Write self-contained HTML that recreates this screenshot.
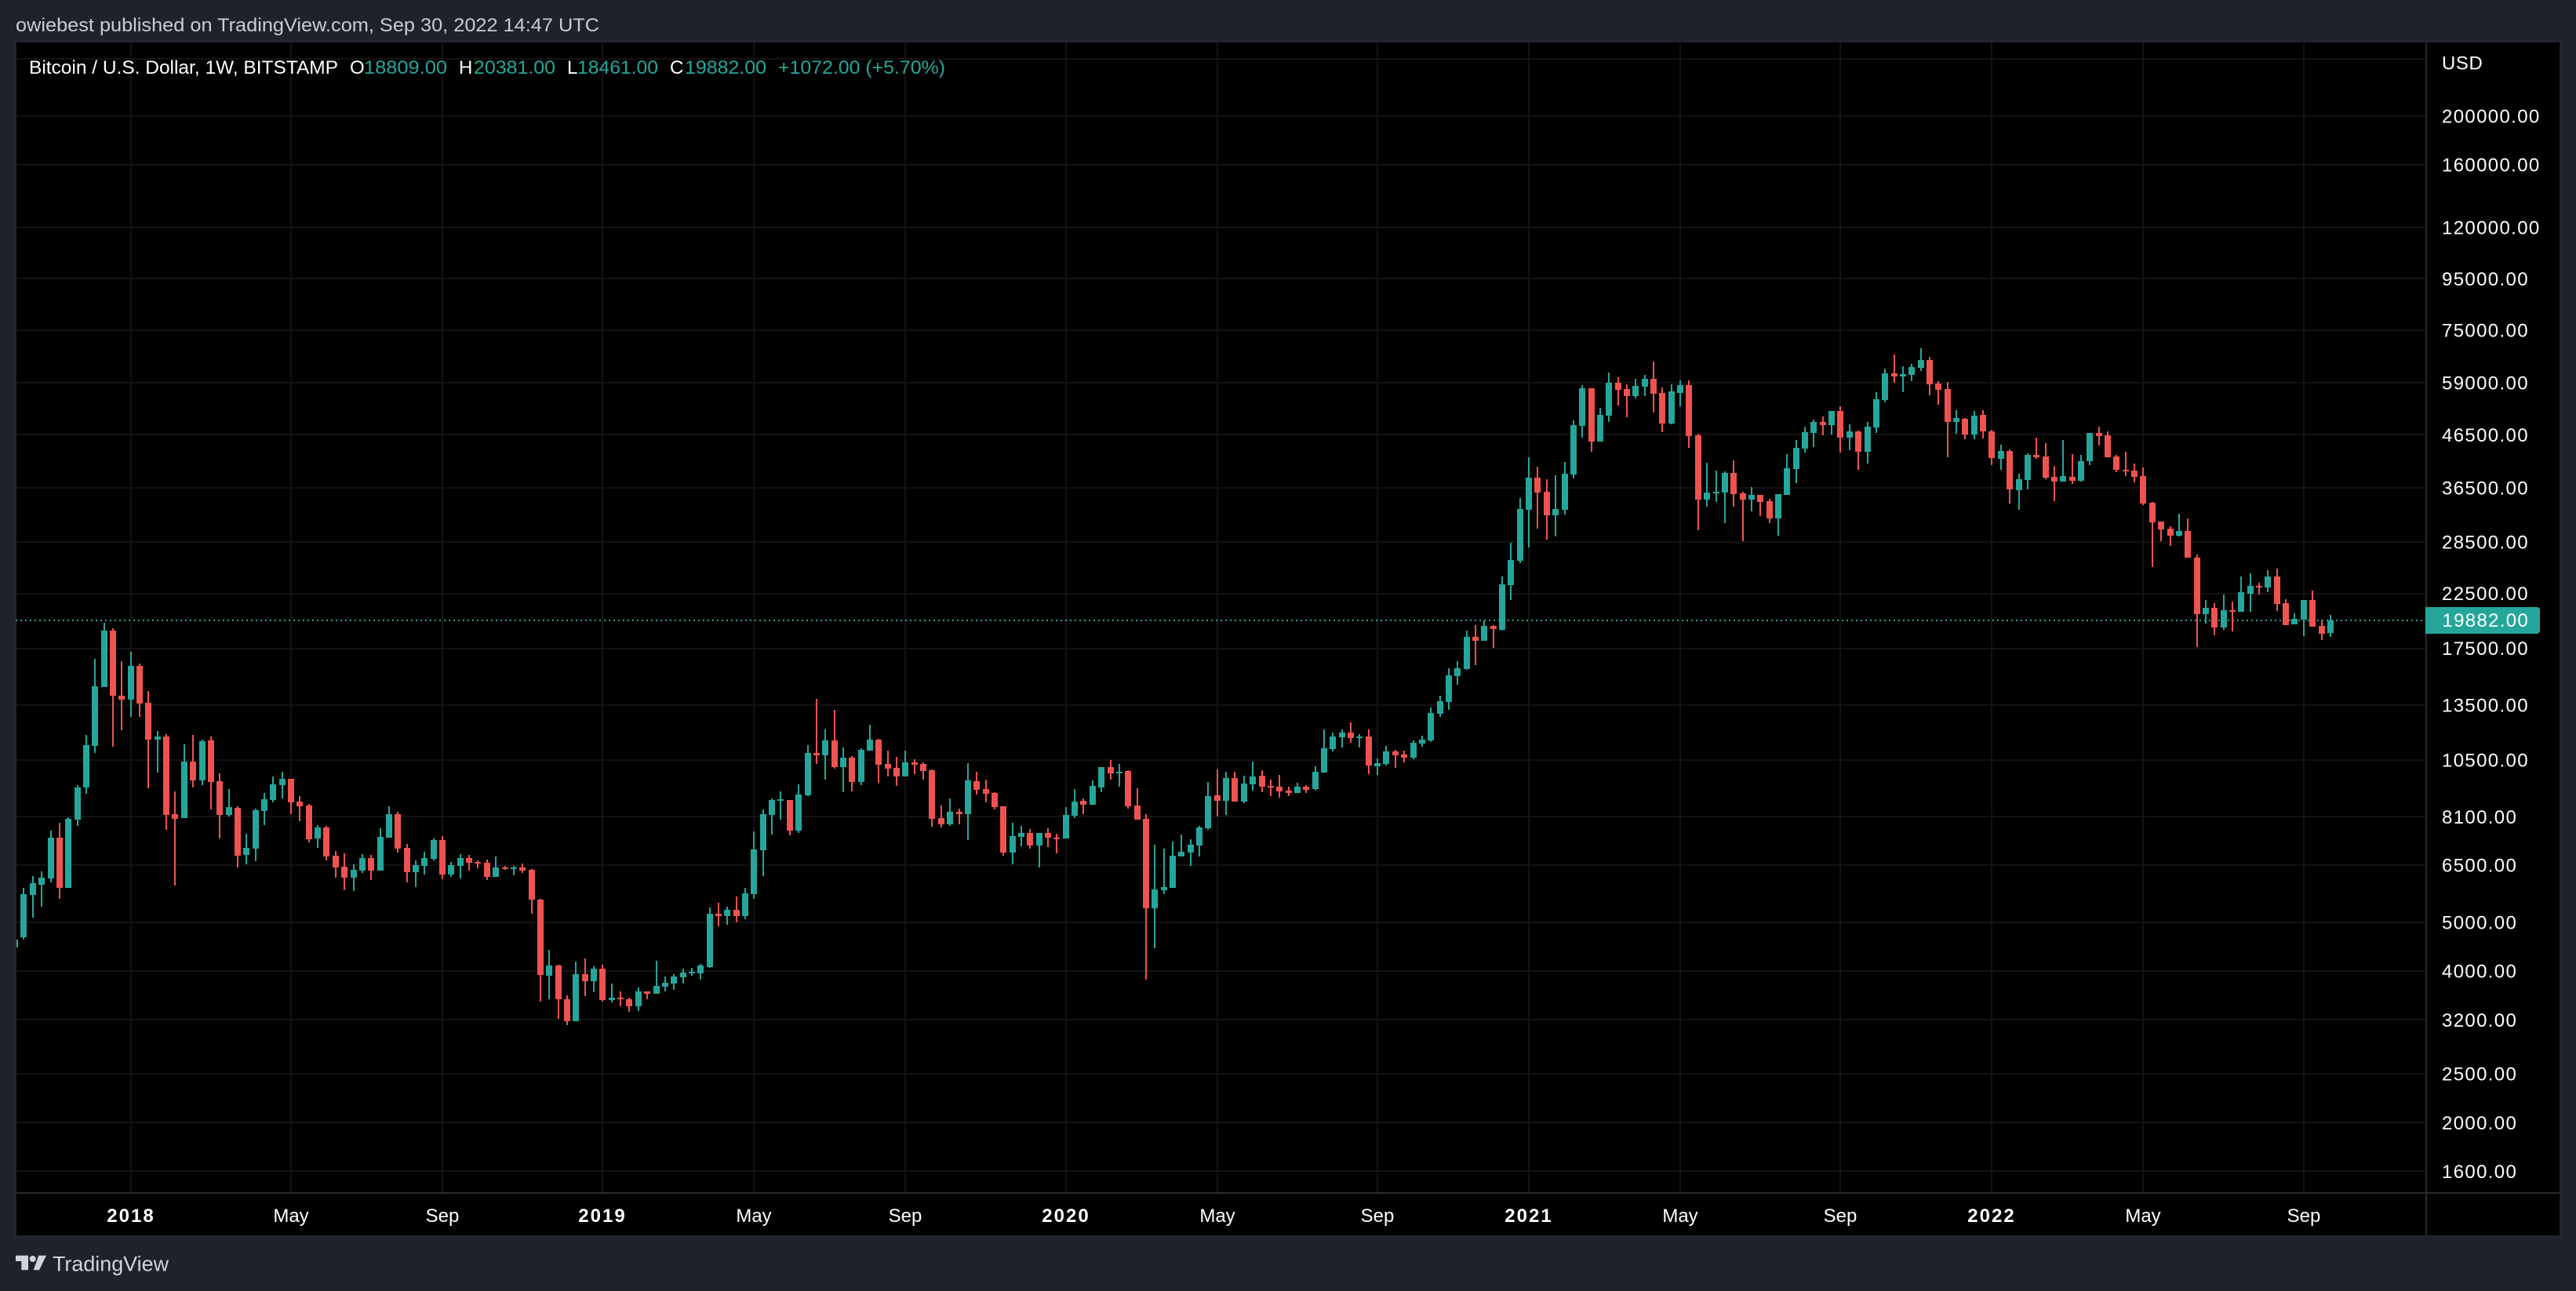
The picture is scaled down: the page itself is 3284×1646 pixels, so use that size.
<!DOCTYPE html>
<html lang="en">
<head>
<meta charset="utf-8">
<title>Bitcoin / U.S. Dollar, 1W, BITSTAMP</title>
<style>
html,body{margin:0;padding:0;background:#1e222d;width:3284px;height:1646px;overflow:hidden}
svg{display:block}
text{font-family:"Liberation Sans",sans-serif;font-size:24px}
</style>
</head>
<body>
<svg id="chart" xmlns="http://www.w3.org/2000/svg" width="3284" height="1646" viewBox="0 0 3284 1646">
  <defs>
    <clipPath id="plot-clip"><rect x="21" y="54" width="3071" height="1466"/></clipPath>
  </defs>
  <rect x="0" y="0" width="3284" height="1646" fill="#1e222d"/>
  <text x="20" y="40" fill="#c9ccd6" textLength="744" lengthAdjust="spacingAndGlyphs">owiebest published on TradingView.com, Sep 30, 2022 14:47 UTC</text>
  <rect x="20" y="53" width="3244" height="1523" fill="#000000" stroke="#2a2e39" stroke-width="1.5"/>
  <g id="grid"></g>
  <line id="last-price-line" x1="20" x2="3092" stroke="#26a69a" stroke-width="2" stroke-dasharray="2 4"/>
  <g id="candles" clip-path="url(#plot-clip)"></g>

  <rect x="3092" y="54" width="2" height="1521" fill="#2a2a2a"/>
  <rect x="21" y="1520" width="3242" height="2" fill="#2a2a2a"/>

  <g>
    <text x="37" y="94" fill="#ffffff" textLength="394" lengthAdjust="spacingAndGlyphs">Bitcoin / U.S. Dollar, 1W, BITSTAMP</text>
    <text x="446" y="94" fill="#ffffff">O</text>
    <text x="464" y="94" fill="#26a69a" textLength="106" lengthAdjust="spacingAndGlyphs">18809.00</text>
    <text x="585" y="94" fill="#ffffff">H</text>
    <text x="604" y="94" fill="#26a69a" textLength="104" lengthAdjust="spacingAndGlyphs">20381.00</text>
    <text x="723" y="94" fill="#ffffff">L</text>
    <text x="736" y="94" fill="#26a69a" textLength="103" lengthAdjust="spacingAndGlyphs">18461.00</text>
    <text x="854" y="94" fill="#ffffff">C</text>
    <text x="873" y="94" fill="#26a69a" textLength="104" lengthAdjust="spacingAndGlyphs">19882.00</text>
    <text x="992" y="94" fill="#26a69a" textLength="213" lengthAdjust="spacingAndGlyphs">+1072.00 (+5.70%)</text>
  </g>

  <text x="3113" y="88.5" fill="#ffffff" letter-spacing="0.6">USD</text>
  <g id="price-labels"></g>
  <g id="time-labels"></g>

  <path d="M3092 774H3234a4 4 0 0 1 4 4V804a4 4 0 0 1 -4 4H3092Z" fill="#26a69a"/>
  <text id="last-price-text" x="3113.5" y="799" fill="#ffffff" letter-spacing="1.3"></text>

  <g>
    <path fill="#d1d4dc" d="M20 1600.7H36V1619.3H27.3V1608H20Z M49.3 1600.7H59L50 1619.3H42.7Z"/>
    <circle cx="41.7" cy="1605" r="4" fill="#d1d4dc"/>
    <text x="67" y="1620.7" fill="#d1d4dc" style="font-size:27px" textLength="148" lengthAdjust="spacingAndGlyphs">TradingView</text>
  </g>
</svg>
<script>
// Weekly candles; week 0 is the first week of January 2018.
const firstWeek = -13;
const opens = [
4452,4665,5660,5930,6100,7350,5850,7990,9255,11190,
14650,18975,14080,13830,16150,13630,11520,11680,8190,8040,
10410,9560,11475,9525,8160,8430,6800,7000,8310,8740,
9355,9625,8680,8520,7325,7710,6775,6445,6120,6330,
6700,6330,7350,8210,7025,6285,6465,6680,7275,6215,
6465,6700,6585,6560,6145,6420,6375,6420,6355,5540,
3915,4095,3520,3175,3940,3815,4040,3500,3535,3520,
3405,3650,3610,3720,3775,3885,3955,3955,4065,5195,
5140,5290,5140,5680,6950,8160,8710,8740,7600,8935,
10840,10725,11475,10160,10600,9495,10955,11520,10300,10125,
9730,10375,10300,10015,8040,7820,8280,8190,9525,9190,
9030,8490,6875,7380,7515,7100,7515,7350,7325,8130,
8710,8550,9255,10160,9870,9985,8520,8015,5325,5785,
5850,6750,6875,7100,7680,8935,8710,9660,8680,9390,
9765,9320,9290,9125,9030,9290,9190,9910,11030,11640,
11900,11600,11680,10195,10300,10915,10765,10600,11310,11475,
12970,13690,15410,15920,18435,18110,19390,19045,23365,26110,
32980,38215,35820,32170,32980,38760,48425,57510,45020,50740,
58990,57320,55500,57950,60060,56310,48950,56310,58360,46380,
34560,35570,35695,39040,35570,34560,35310,34310,31700,35310,
39750,43640,46880,49300,48600,51840,45890,47220,42990,48080,
54510,61580,60710,61150,63150,65450,58780,57320,49300,50020,
46550,50920,47220,41650,43160,36080,37810,42400,42100,38350,
37540,38350,37675,41210,46880,46380,42100,39610,39470,38490,
34070,31250,30260,29300,29930,26500,20460,21060,19250,20830,
20680,22460,23280,23110,24310,21520,19520,19950,21830,19390,
18809];
const highs = [
4665,5850,6165,6305,7600,7880,8070,9355,11765,16670,
19670,19180,16490,17220,16320,14390,11985,11810,9095,11270,
11765,11520,11680,9870,9190,8490,7490,8400,9030,9730,
9950,9625,8900,8580,7795,7765,6925,6850,6515,6825,
6800,7680,8490,8280,7150,6630,6900,7325,7410,6585,
6825,6800,6630,6655,6750,6465,6465,6535,6375,5560,
4405,4110,3585,4170,4230,4080,4110,3775,3650,3535,
3705,3650,4185,3900,3940,4040,4055,4125,5345,5460,
5365,5620,5850,7570,8370,8800,9095,8740,9390,11230,
13880,12070,13200,11110,10685,11070,12330,11560,10955,10645,
10955,10530,10375,10055,8520,8800,8400,10340,9950,9600,
9060,8490,7880,7765,7655,7515,7680,7490,8460,9190,
8800,9560,10160,10490,10300,10015,9220,8190,7125,7000,
7220,7465,7300,7765,9495,10055,9950,9950,9765,10410,
10015,9600,9800,9290,9460,9355,10195,12070,11900,12070,
12465,11810,12070,10565,11190,10995,10955,11475,11720,13345,
14080,15980,16490,18975,19455,19880,19455,24310,28365,34810,
41950,40200,37945,38620,41055,49680,58360,57510,52590,61800,
60490,58570,60060,61150,64990,57740,58570,59630,59630,46710,
40910,39470,39330,41340,35820,36600,35310,34680,35440,42550,
45400,48250,49820,50560,51840,52970,48780,47390,49300,56510,
62930,67130,63560,64290,69080,66410,59420,59210,52030,50200,
51840,52030,47560,44420,43480,38900,42700,45890,44750,40330,
45400,42550,42400,46880,48250,47220,42400,42990,40760,40040,
34190,31250,30590,32400,31700,26880,21830,21520,22380,21670,
24310,24660,23630,25020,25200,21900,20530,21830,22790,19880,
20381];
const lows = [
4388,4613,5100,5365,6010,5560,5850,7765,9000,10840,
14650,11150,12030,12790,12790,9220,9910,7625,5910,8040,
9255,9355,8370,7325,8100,6420,6515,6605,7795,8645,
8800,8190,7935,7195,7025,6630,6120,5785,5765,6260,
6055,6330,7350,6875,5995,5870,6215,6630,6080,6145,
6100,6330,6400,6055,6145,6355,6190,6260,5195,3475,
3520,3210,3120,3175,3560,3625,3475,3465,3405,3320,
3330,3520,3610,3650,3665,3775,3915,3845,4055,4900,
4940,4990,5065,5560,6165,7465,7990,7440,7515,8900,
10300,9600,10090,9060,9095,9355,10955,9460,9730,9320,
9730,9835,9600,7735,7710,7765,7820,7275,8965,8645,
8370,6775,6515,7075,7000,6420,7050,6850,7325,8040,
8190,8550,9060,9600,9290,8400,7990,3845,4435,5680,
5850,6750,6465,6750,7625,8100,8160,8680,8615,9125,
9060,8900,8835,8900,9030,9030,9125,9910,10915,11110,
11350,11110,9835,9800,10230,10125,10375,10530,11150,11390,
12790,13200,14810,15865,16205,18110,17530,18975,21830,25840,
27760,30260,28775,29200,32280,38080,45890,42990,45020,49300,
53150,50380,54900,55500,51480,47050,48780,52970,43790,30040,
33450,34190,31030,33430,28570,32740,32050,31030,29300,35310,
37260,42860,43950,46380,46550,42860,43340,39610,40760,46880,
53940,58990,56510,59420,62250,55700,53350,41950,46710,45560,
45560,45730,40470,39610,33950,32980,36210,41650,37945,34310,
37540,37130,37540,40470,44270,41950,39190,38490,37400,33710,
25370,28570,27960,29200,26500,17600,19600,18570,19045,18910,
20680,20680,22380,22620,20750,19450,19520,18500,19320,18180,
18461];
const closes = [
4613,5680,5975,6120,7350,5850,8015,9255,11230,14700,
18975,14080,13830,16150,13585,11520,11680,8160,8015,10410,
9560,11430,9495,8160,8460,6775,7025,8340,8770,9390,
9625,8645,8490,7300,7710,6750,6420,6120,6355,6700,
6330,7380,8210,7000,6285,6490,6700,7275,6215,6490,
6700,6560,6560,6145,6420,6375,6420,6330,5540,3930,
4095,3510,3175,3940,3815,4040,3500,3535,3510,3405,
3640,3610,3735,3790,3900,3970,3985,4095,5195,5140,
5290,5140,5700,6975,8190,8740,8770,7600,8965,10840,
10725,11475,10160,10600,9495,10995,11520,10270,10090,9730,
10375,10270,9985,8015,7820,8280,8190,9560,9155,9000,
8460,6875,7410,7515,7100,7515,7350,7325,8160,8680,
8550,9320,10160,9870,9950,8490,7990,5325,5805,5870,
6775,6900,7125,7710,8900,8710,9660,8680,9425,9730,
9290,9255,9095,9030,9290,9155,9950,11070,11680,11900,
11600,11680,10230,10340,10915,10725,10600,11350,11520,13015,
13740,15465,15980,18435,18110,19390,19110,23450,26220,33100,
38215,35695,32170,33100,38900,48600,57510,45020,50920,58990,
57120,55500,58150,60060,56110,48950,56710,58360,46200,34560,
35695,35820,39040,35440,34560,35310,34190,31700,35440,39900,
43790,47050,49300,48600,51840,45890,47220,42990,48250,54710,
61580,60710,61350,63380,65450,58570,57120,49300,50200,46550,
50740,47220,41800,43160,36210,37945,42400,41950,38215,37540,
38490,37675,41210,46880,46200,41950,39610,39330,38350,33950,
31140,30150,29300,29930,26500,20460,21060,19250,20830,20680,
22620,23280,23110,24310,21440,19450,20020,21830,19320,18700,
19882];
const priceTicks = [200000,160000,120000,95000,75000,59000,46500,36500,28500,22500,17500,13500,10500,8100,6500,5000,4000,3200,2500,2000,1600];
const unlabeledPriceGrid = [260000];
const timeTickWeeks = [0,18,35,53,70,87,105,122,140,157,174,192,209,226,244];
const timeTickLabels = ['2018','May','Sep','2019','May','Sep','2020','May','Sep','2021','May','Sep','2022','May','Sep'];
const yearTicks = ['2018','2019','2020','2021','2022'];
const lastPrice = 19882;

const SVG_NS = 'http://www.w3.org/2000/svg';
const UP = '#26a69a';
const DOWN = '#ef5350';

function xOf(week) { return 166.7 + week * 11.353; }
function yOf(price) { return 147.7 + (Math.log(200000) - Math.log(price)) * 278.7; }
function make(tag, attrs) {
  const el = document.createElementNS(SVG_NS, tag);
  for (const k in attrs) el.setAttribute(k, attrs[k]);
  return el;
}

const gridGroup = document.getElementById('grid');
priceTicks.concat(unlabeledPriceGrid).forEach(function (p) {
  const line = make('rect', {x: 21, y: Math.round(yOf(p) - 1), width: 3071, height: 2, fill: '#131313'});
  
  
  gridGroup.appendChild(line);
});
timeTickWeeks.forEach(function (w) {
  const line = make('rect', {x: Math.round(xOf(w)) - 1, y: 54, width: 2, height: 1466, fill: '#131313'});
  
  
  gridGroup.appendChild(line);
});

const lastLine = document.getElementById('last-price-line');
lastLine.setAttribute('y1', Math.round(yOf(lastPrice)));
lastLine.setAttribute('y2', Math.round(yOf(lastPrice)));
document.getElementById('last-price-text').textContent = lastPrice.toFixed(2);

const candleGroup = document.getElementById('candles');
closes.forEach(function (close, i) {
  const open = opens[i];
  const color = close >= open ? UP : DOWN;
  const cx = Math.round(xOf(firstWeek + i));
  const wickTop = Math.round(yOf(highs[i]));
  const wickBottom = Math.round(yOf(lows[i]));
  const bodyTop = Math.round(yOf(Math.max(open, close)));
  const bodyBottom = Math.round(yOf(Math.min(open, close)));
  const wick = make('rect', {x: cx - 1, y: wickTop, width: 2, height: Math.max(wickBottom - wickTop, 2), fill: color});
  
  
  candleGroup.appendChild(wick);
  const body = make('rect', {x: cx - 4, y: bodyTop, width: 8, height: Math.max(bodyBottom - bodyTop, 2), fill: color});
  
  
  candleGroup.appendChild(body);
});

const priceGroup = document.getElementById('price-labels');
priceTicks.forEach(function (p) {
  const label = make('text', {x: 3113, y: (yOf(p) + 8.6).toFixed(1), fill: '#ffffff', 'letter-spacing': '1.35'});
  
  
  label.textContent = p.toFixed(2);
  priceGroup.appendChild(label);
});

const timeGroup = document.getElementById('time-labels');
timeTickWeeks.forEach(function (w, i) {
  const text = timeTickLabels[i];
  const isYear = yearTicks.indexOf(text) >= 0;
  const label = make('text', {x: Math.round(xOf(w)), y: 1558, fill: '#ffffff', 'text-anchor': 'middle'});
  
  
  if (isYear) {
    label.setAttribute('font-weight', 'bold');
    label.setAttribute('letter-spacing', '2');
  }
  label.textContent = text;
  timeGroup.appendChild(label);
});
</script>
</body>
</html>
